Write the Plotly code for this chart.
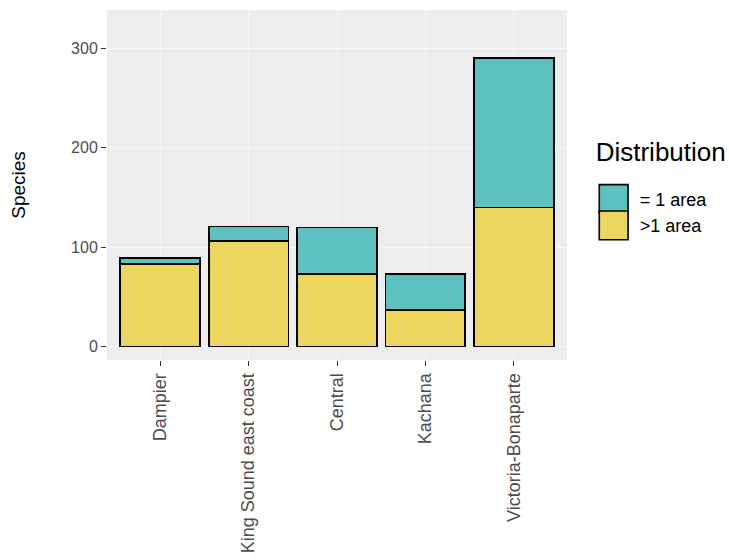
import plotly.graph_objects as go

regions = ["Dampier", "King Sound east coast", "Central", "Kachana", "Victoria-Bonaparte"]
multi_area = [83, 106, 73, 37, 140]
single_area = [6, 15, 47, 36, 150]
y_ticks = [0, 100, 200, 300]

teal = "#5DC1BF"
yellow = "#EDD55E"

fig = go.Figure()
fig.add_trace(go.Bar(
    x=regions, y=multi_area, name=">1 area",
    marker=dict(color=yellow, line=dict(color="black", width=1.6)),
    width=0.9,
))
fig.add_trace(go.Bar(
    x=regions, y=single_area, name="= 1 area",
    marker=dict(color=teal, line=dict(color="black", width=1.6)),
    width=0.9,
))

fig.update_layout(
    barmode="stack",
    width=729, height=560,
    margin=dict(l=107, r=162, t=10, b=200, autoexpand=False),
    paper_bgcolor="white",
    plot_bgcolor="#EDEDED",
    font=dict(family="Liberation Sans, Arial, sans-serif", color="#4D4D4D"),
    legend=dict(
        title=dict(text="Distribution", font=dict(size=26, color="black")),
        font=dict(size=18, color="black"),
        traceorder="reversed",
        x=1.058, xanchor="left", y=0.47, yanchor="middle",
        bgcolor="rgba(0,0,0,0)",
    ),
    showlegend=True,
)
fig.update_xaxes(
    type="category",
    range=[-0.6, 4.6],
    tickangle=-90,
    tickfont=dict(size=18, color="#4D4D4D"),
    ticks="outside", ticklen=5, tickcolor="#333333",
    showgrid=True, gridcolor="#F6F6F6", gridwidth=1,
    zeroline=False, showline=False,
    automargin=False,
)
fig.update_yaxes(
    range=[-13.4, 338.5],
    tickvals=y_ticks,
    tickfont=dict(size=16, color="#4D4D4D"),
    ticks="outside", ticklen=5, tickcolor="#333333",
    showgrid=True, gridcolor="#F6F6F6", gridwidth=1,
    zeroline=False, showline=False,
    automargin=False,
    title=dict(text="Species", font=dict(size=19, color="black"), standoff=40),
)

post = """
document.body.style.margin = '0';
document.querySelectorAll('.legend [clip-path]').forEach(function(el){
  el.removeAttribute('clip-path');
});
document.querySelectorAll('.legend .legendpoints path').forEach(function(p){
  var t = p.getAttribute('transform') || '';
  p.setAttribute('transform', t + ' scale(2.4)');
  p.setAttribute('vector-effect', 'non-scaling-stroke');
});
document.querySelectorAll('.legend .legendtext').forEach(function(el){
  var t = el.getAttribute('transform') || '';
  el.setAttribute('transform', t + ' translate(6,0)');
});
document.querySelectorAll('.legend .legendtitletext').forEach(function(el){
  var t = el.getAttribute('transform') || '';
  el.setAttribute('transform', t + ' translate(0,-20)');
});
"""

fig.write_html("out.html", post_script=post, config={"displayModeBar": False})
